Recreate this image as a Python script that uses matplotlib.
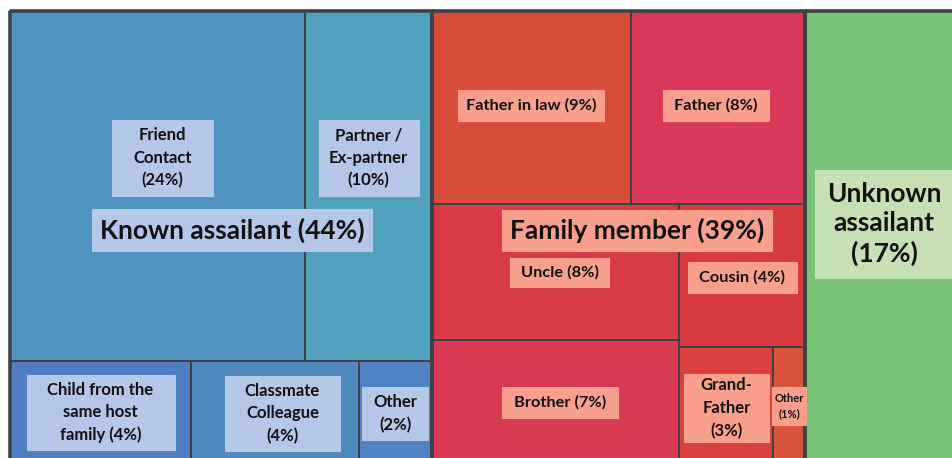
import matplotlib
matplotlib.use("Agg")
import matplotlib.pyplot as plt
from matplotlib.patches import Rectangle

# ---------------- data ----------------
group_names = ["Known assailant", "Family member", "Unknown assailant"]
group_pct = ["44%", "39%", "17%"]

known_labels = ["Friend\nContact", "Partner /\nEx-partner", "Child from the\nsame host\nfamily",
                "Classmate\nColleague", "Other"]
known_pct = ["24%", "10%", "4%", "4%", "2%"]
known_values = [23.8, 10.2, 4.29, 3.98, 1.73]

family_labels = ["Father in law", "Father", "Uncle", "Brother", "Cousin", "Grand-\nFather", "Other"]
family_pct = ["9%", "8%", "8%", "7%", "4%", "3%", "1%"]
family_values = [8.84, 7.73, 7.74, 7.05, 4.15, 2.53, 0.86]

unknown_values = [17.1]

# ---------------- styles ----------------
known_colors = ["#4e94be", "#50a1be", "#4f7ec2", "#5089bd", "#4f82c2"]
family_colors = ["#d94c3a", "#da3a5a", "#d83b48", "#d93a55", "#d63b42", "#d9403e", "#d9543a"]
unknown_color = "#78c278"
box_colors = {"known": "#b4c7e7", "family": "#f8a08d", "unknown": "#c5e0b4"}
edge = "#3e4246"

W_PX, H_PX = 953, 458
fig = plt.figure(figsize=(W_PX / 100, H_PX / 100), dpi=100)
ax = fig.add_axes([0, 0, 1, 1])
ax.set_xlim(0, W_PX)
ax.set_ylim(H_PX, 0)
ax.axis("off")

FONT = ["Lato", "DejaVu Sans"]

# treemap frame (extends beyond the cropped figure)
X0, Y0, TW, TH = 10, 11, 959, 453


def split(rect, values, direction):
    x, y, w, h = rect
    tot = sum(values)
    out = []
    pos = 0.0
    for v in values:
        f = v / tot
        if direction == "h":
            out.append((x + pos * w, y, f * w, h))
        else:
            out.append((x, y + pos * h, w, f * h))
        pos += f
    return out


kv = known_values
fv = family_values
top = split((X0, Y0, TW, TH), [sum(kv), sum(fv), sum(unknown_values)], "h")
r_known, r_family, r_unknown = top

# known: two rows
k_rows = split(r_known, [kv[0] + kv[1], sum(kv[2:])], "v")
k_rects = split(k_rows[0], kv[0:2], "h") + split(k_rows[1], kv[2:5], "h")

# family: top row, then two columns
f_rows = split(r_family, [fv[0] + fv[1], sum(fv[2:])], "v")
f_top = split(f_rows[0], fv[0:2], "h")
f_cols = split(f_rows[1], [fv[2] + fv[3], sum(fv[4:])], "h")
f_left = split(f_cols[0], fv[2:4], "v")
f_right = split(f_cols[1], [fv[4], fv[5] + fv[6]], "v")
f_bottom = split(f_right[1], fv[5:7], "h")
f_rects = f_top + f_left + [f_right[0]] + f_bottom


def draw_rect(r, color, lw=1.4):
    ax.add_patch(Rectangle((r[0], r[1]), r[2], r[3], facecolor=color,
                           edgecolor=edge, linewidth=lw, zorder=1))


for r, c in zip(k_rects, known_colors):
    draw_rect(r, c)
for r, c in zip(f_rects, family_colors):
    draw_rect(r, c)
draw_rect(r_unknown, unknown_color)
for r in top:
    ax.add_patch(Rectangle((r[0], r[1]), r[2], r[3], facecolor="none",
                           edgecolor=edge, linewidth=2.6, zorder=3))


def label(r, text, kind, box, size=11.5, dx=0, dy=0, ls=1.5):
    cx = r[0] + r[2] / 2 + dx
    cy = r[1] + r[3] / 2 + dy
    bw, bh = box
    ax.add_patch(Rectangle((cx - bw / 2, cy - bh / 2), bw, bh,
                           facecolor=box_colors[kind], edgecolor=box_colors[kind],
                           linewidth=0.8, zorder=4))
    ax.text(cx, cy, text, ha="center", va="center", fontsize=size,
            fontweight="bold", family=FONT, color="#111111", linespacing=ls,
            zorder=5)


# child labels of known: (box w, box h), offsets from cell centre
k_box = [(101, 76), (100, 76), (148, 75), (115, 75), (66, 53)]
k_dx = [5, 0, 0, 7.5, 0]
k_dy = [-28, -28, 0, 1, 1]
k_sep = ["\n", "\n", " ", "\n", "\n"]
for r, t, p, b, dx, dy, s in zip(k_rects, known_labels, known_pct, k_box, k_dx, k_dy, k_sep):
    label(r, f"{t}{s}({p})", "known", b, size=12, dx=dx, dy=dy)

# child labels of family
f_box = [(146, 31), (106, 31), (99, 29), (116, 31), (109, 31), (85, 68), (34, 38)]
f_dx = [0, -2, 4, 4.5, 0, 0.5, 0]
f_dy = [-2, -2, 0.5, 0.5, 2, 2.5, 0.5]
for i, (r, t, p, b, dx, dy) in enumerate(zip(f_rects, family_labels, family_pct, f_box, f_dx, f_dy)):
    if i == 5:
        label(r, f"{t}\n({p})", "family", b, size=12, dx=dx, dy=dy)
    elif i == 6:
        label(r, f"{t}\n({p})", "family", b, size=8, dx=dx, dy=dy, ls=1.4)
    else:
        label(r, f"{t} ({p})", "family", b, size=11.8, dx=dx, dy=dy)

# group labels
label(r_known, f"{group_names[0]} ({group_pct[0]})", "known", (280, 42),
      size=19, dx=11, dy=-7.5)
label(r_family, f"{group_names[1]} ({group_pct[1]})", "family", (270, 41),
      size=19, dx=18.5, dy=-7)
u1, u2 = group_names[2].split(" ")
label(r_unknown, f"{u1}\n{u2}\n({group_pct[2]})", "unknown", (138, 108),
      size=19, dx=-3, dy=-13.5, ls=1.25)

fig.savefig("out.png", dpi=100)
